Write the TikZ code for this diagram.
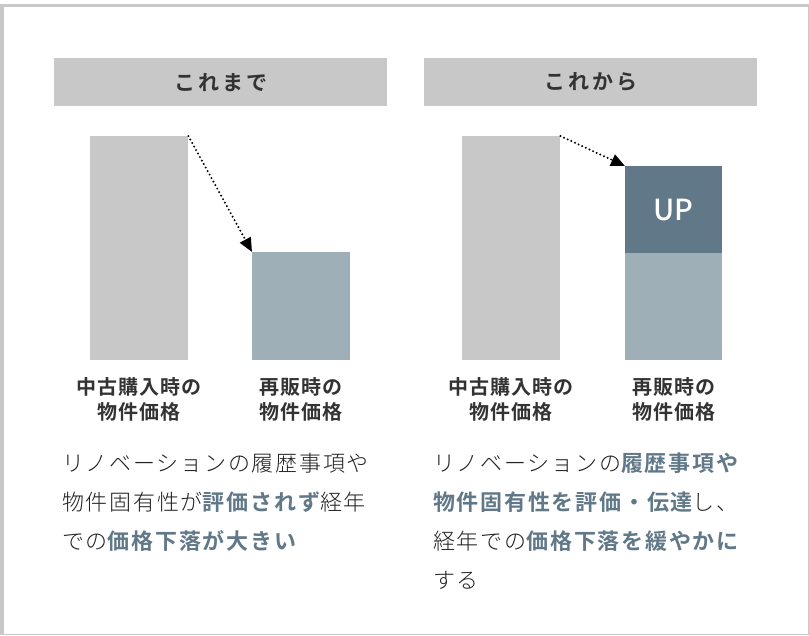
\documentclass[tikz,border=0pt]{standalone}
\usepackage{fontspec}
\setmainfont{Noto Sans CJK JP}[BoldFont={Noto Sans CJK JP Bold}]
\newfontfamily\bodyfont{Noto Sans CJK JP Light}[BoldFont={Noto Sans CJK JP Bold},LetterSpace=8]
\newfontfamily\lblfont{Noto Sans CJK JP}[BoldFont={Noto Sans CJK JP Bold},LetterSpace=5]
\newfontfamily\hdrfont{Noto Sans CJK JP}[BoldFont={Noto Sans CJK JP Bold},LetterSpace=14]
\newfontfamily\upfont{Noto Sans CJK JP Medium}
\usetikzlibrary{arrows.meta}
\definecolor{hdr}{HTML}{C8C8C8}
\definecolor{lightbar}{HTML}{9EAFB8}
\definecolor{darkbar}{HTML}{617888}
\definecolor{txt}{HTML}{333333}
\definecolor{bodytxt}{HTML}{222222}
\newcommand\hilite[1]{{\bfseries\color{darkbar}#1}}
\begin{document}
\begin{tikzpicture}[x=1pt,y=-1pt,
 header/.style={fill=hdr, minimum width=333pt, minimum height=48pt, inner sep=0pt, anchor=north west, text=txt, font=\hdrfont\fontsize{21}{21}\selectfont\bfseries},
 bar/.style={inner sep=0pt, anchor=north west, minimum width=98pt},
 lbl/.style={align=center, text=txt, inner sep=0pt, font=\lblfont\fontsize{20}{25}\selectfont\bfseries},
 body/.style={anchor=west, inner sep=0pt, text=bodytxt, font=\bodyfont\fontsize{22}{22}\selectfont},
 drop/.style={line width=2.2pt, line cap=round, dash pattern=on 0pt off 4pt, -{Triangle[length=14pt,width=12pt]}}
]
\fill[white] (0,0) rectangle (809,635);
\fill[hdr] (0,3.5) rectangle (809,635);
\fill[white] (4,7.3) rectangle (807.5,634);
\useasboundingbox (0,0) rectangle (809,635);

\node[header] (h1) at (54,58) {これまで};
\node[header] (h2) at (424,58) {これから};

\node[bar, fill=hdr, minimum height=224pt] (g1) at (90,136) {};
\node[bar, fill=lightbar, minimum height=108pt] (b1) at (252,252) {};
\node[bar, fill=hdr, minimum height=224pt] (g2) at (462,136) {};
\node[bar, fill=darkbar, minimum height=87pt, minimum width=97pt, text=white, font=\upfont\fontsize{29}{29}\selectfont] (u2) at (625,166) {UP};
\node[bar, fill=lightbar, minimum height=107pt, minimum width=97pt] (b2) at (625,253) {};

\draw[drop] (g1.north east) -- (b1.north west);
\draw[drop] (g2.north east) -- (u2.north west);

\node[lbl] (l1) at (139,399.5) {中古購入時の\\物件価格};
\node[lbl] (l2) at (301,399.5) {再販時の\\物件価格};
\node[lbl] (l3) at (511,399.5) {中古購入時の\\物件価格};
\node[lbl] (l4) at (673.5,399.5) {再販時の\\物件価格};

\node[body] (t1) at (62,463) {リノベーションの履歴事項や};
\node[body] (t2) at (62,502) {物件固有性が\hilite{評価されず}経年};
\node[body] (t3) at (62,541) {での\hilite{価格下落が大きい}};
\node[body] (r1) at (433,463) {リノベーションの\hilite{履歴事項や}};
\node[body] (r2) at (433,502) {\hilite{物件固有性を評価・伝達}し、};
\node[body] (r3) at (433,541) {経年での\hilite{価格下落を緩やかに}};
\node[body] (r4) at (433,580) {する};
\end{tikzpicture}
\end{document}
